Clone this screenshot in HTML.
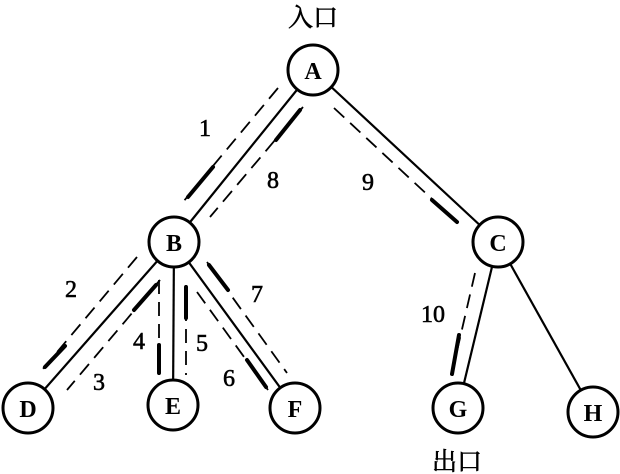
<!DOCTYPE html>
<html><head><meta charset="utf-8"><style>
html,body{margin:0;padding:0;background:#fff}
svg{display:block}
text{font-family:"Liberation Serif","Noto Serif CJK SC",serif;fill:#000}
</style></head><body>
<svg width="620" height="474" viewBox="0 0 620 474" xmlns="http://www.w3.org/2000/svg">
<g stroke="#000" stroke-width="2.2" fill="none">
<line x1="313" y1="70" x2="174" y2="242"/>
<line x1="313" y1="70" x2="498" y2="242"/>
<line x1="174" y1="242" x2="28" y2="408"/>
<line x1="174" y1="242" x2="173" y2="405"/>
<line x1="174" y1="242" x2="295" y2="408"/>
<line x1="498" y1="242" x2="458" y2="408"/>
<line x1="498" y1="242" x2="593" y2="412"/>
</g>
<g stroke="#000" stroke-width="1.8" fill="none" stroke-dasharray="14,8">
<line x1="278" y1="88" x2="183" y2="202"/>
<line x1="303" y1="107" x2="210" y2="217"/>
<line x1="334" y1="108" x2="460" y2="225"/>
<line x1="137" y1="257" x2="42" y2="370"/>
<line x1="160" y1="280" x2="67" y2="390"/>
<line x1="159" y1="280" x2="159" y2="375"/>
<line x1="186" y1="285" x2="186" y2="375"/>
<line x1="207" y1="262" x2="287" y2="373"/>
<line x1="197" y1="292" x2="268" y2="390"/>
<line x1="475" y1="273" x2="451" y2="377"/>
</g>
<g stroke="#000" stroke-width="4" stroke-linecap="round">
<line x1="213" y1="167" x2="188" y2="197"/>
<line x1="300" y1="110" x2="276" y2="140"/>
<line x1="432" y1="200" x2="457" y2="222"/>
<line x1="65" y1="346" x2="45" y2="367"/>
<line x1="156" y1="285" x2="134" y2="310"/>
<line x1="159" y1="345" x2="159" y2="373"/>
<line x1="186" y1="287" x2="186" y2="318"/>
<line x1="209" y1="265" x2="228" y2="290"/>
<line x1="247" y1="360" x2="266" y2="387"/>
<line x1="459" y1="335" x2="452" y2="374"/>
</g>
<g stroke="#000" stroke-width="3" fill="#fff">
<circle cx="313" cy="70" r="25"/>
<circle cx="174" cy="242" r="25"/>
<circle cx="498" cy="242" r="25"/>
<circle cx="28" cy="408" r="25"/>
<circle cx="173" cy="405" r="25"/>
<circle cx="295" cy="408" r="25"/>
<circle cx="458" cy="408" r="25"/>
<circle cx="593" cy="412" r="25"/>
</g>
<g font-size="24" font-weight="bold" text-anchor="middle">
<text x="313" y="79">A</text>
<text x="174" y="251">B</text>
<text x="498" y="251">C</text>
<text x="28" y="417">D</text>
<text x="173" y="414">E</text>
<text x="295" y="417">F</text>
<text x="458" y="417">G</text>
<text x="593" y="421">H</text>
</g>
<g font-size="24" text-anchor="middle" stroke="#000" stroke-width="0.6">
<text x="205" y="136">1</text>
<text x="273" y="188">8</text>
<text x="368" y="190">9</text>
<text x="71" y="297">2</text>
<text x="99" y="390">3</text>
<text x="139" y="349">4</text>
<text x="202" y="351">5</text>
<text x="229" y="386">6</text>
<text x="257" y="302">7</text>
<text x="433" y="322">10</text>
<text x="313" y="26" font-size="25">入口</text>
<text x="457" y="470" font-size="25">出口</text>
</g>
</svg>
</body></html>
